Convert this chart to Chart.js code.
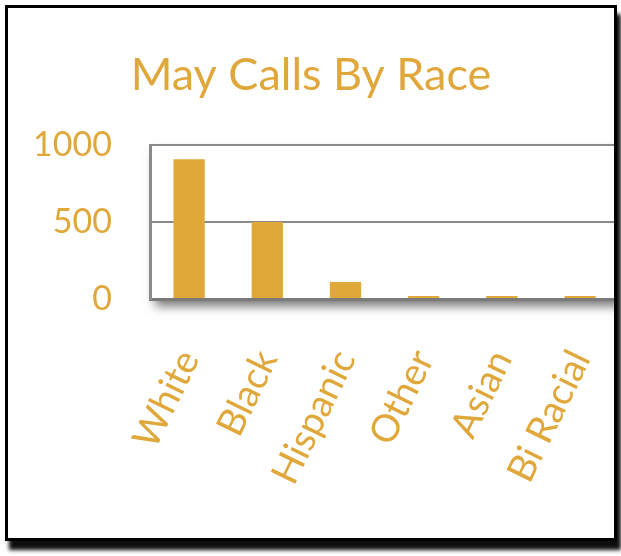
<!DOCTYPE html>
<html>
<head>
<meta charset="utf-8">
<title>May Calls By Race</title>
<script src="https://cdn.jsdelivr.net/npm/chart.js@4"></script>
<style>
  html, body { margin: 0; padding: 0; background: #fff; }
  body { width: 621px; height: 556px; position: relative; overflow: hidden; }
  #frame {
    position: absolute; left: 5px; top: 5px;
    width: 606px; height: 530px;
    border: 3px solid #000;
    box-shadow: 4px 9px 4px rgba(0,0,0,0.95);
    overflow: hidden; background: #fff;
  }
  #wrap { position: absolute; left: -8px; top: -8px; width: 669px; height: 556px; }
</style>
</head>
<body>
<div id="frame"><div id="wrap"><canvas id="raceChart" width="669" height="556"></canvas></div></div>
<script>
// chart data
const races = ['White', 'Black', 'Hispanic', 'Other', 'Asian', 'Bi Racial'];
const calls = [907, 500, 110, 20, 20, 20];
const yTicks = [0, 500, 1000];

const gold = '#E0A83B';
const fontFamily = 'Lato, "Open Sans", sans-serif';

// white plot box with a soft drop shadow underneath
const plotShadow = {
  id: 'plotShadow',
  beforeDraw(chart) {
    const { ctx, chartArea } = chart;
    ctx.save();
    ctx.shadowColor = 'rgba(0,0,0,0.55)';
    ctx.shadowBlur = 10;
    ctx.shadowOffsetX = 5;
    ctx.shadowOffsetY = 7;
    ctx.fillStyle = '#fff';
    ctx.fillRect(chartArea.left, chartArea.top, chartArea.right - chartArea.left, chartArea.bottom - chartArea.top);
    ctx.restore();
  }
};

const ctx = document.getElementById('raceChart').getContext('2d');
new Chart(ctx, {
  type: 'bar',
  data: {
    labels: races,
    datasets: [{
      label: 'Calls',
      data: calls,
      backgroundColor: gold,
      borderWidth: 0,
      barPercentage: 0.4,
      categoryPercentage: 1.0
    }]
  },
  options: {
    responsive: false,
    animation: false,
    devicePixelRatio: 1,
    layout: { padding: { top: 0, right: 47, bottom: 0, left: 0 } },
    plugins: {
      legend: { display: false },
      tooltip: { enabled: false },
      title: {
        display: true,
        text: 'May Calls By Race',
        color: gold,
        font: { family: fontFamily, size: 45, weight: 'normal' },
        padding: { top: 48, bottom: 43 }
      }
    },
    scales: {
      x: {
        grid: { display: false, drawTicks: false },
        border: { display: true, color: '#7a7a7a', width: 3 },
        ticks: {
          color: gold,
          font: { family: fontFamily, size: 38 },
          minRotation: 64,
          maxRotation: 64,
          padding: 44,
          autoSkip: false
        },
        afterFit(axis) { axis.height = 556 - 299; }
      },
      y: {
        min: 0,
        max: 1000,
        afterBuildTicks(axis) { axis.ticks = yTicks.map(v => ({ value: v })); },
        grid: { color: '#8a8a8a', lineWidth: 2, drawTicks: false },
        border: { display: true, color: '#8a8a8a', width: 3 },
        ticks: {
          color: gold,
          font: { family: fontFamily, size: 34 },
          padding: 38,
          callback: v => String(v)
        },
        afterFit(axis) { axis.width = 150; }
      }
    }
  },
  plugins: [plotShadow]
});
</script>
</body>
</html>
